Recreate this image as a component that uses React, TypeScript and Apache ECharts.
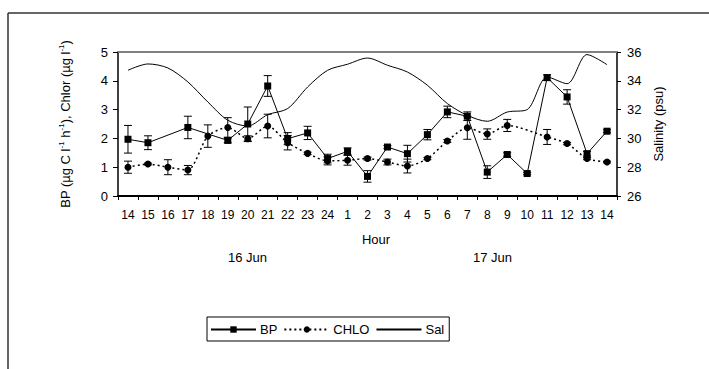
import React, { useEffect, useRef } from "react";
import * as echarts from "echarts";

const hours = ["14","15","16","17","18","19","20","21","22","23","24","1","2","3","4","5","6","7","8","9","10","11","12","13","14"];
const bp = [1.97, 1.85, null, 2.38, null, 1.93, 2.5, 3.82, 1.99, 2.19, 1.3, 1.55, 0.68, 1.7, 1.47, 2.13, 2.92, 2.77, 0.83, 1.44, 0.78, 4.11, 3.44, 1.47, 2.25];
const bpErr = [0.48, 0.24, null, 0.39, null, 0.08, 0.59, 0.36, 0.21, 0.23, 0.15, 0.12, 0.2, 0.05, 0.29, 0.18, 0.2, 0.15, 0.22, 0.06, 0.04, 0.1, 0.25, 0.08, 0.05];
const chlo = [1.0, 1.11, 1.0, 0.9, 2.08, 2.38, 1.99, 2.43, 1.85, 1.48, 1.22, 1.24, 1.3, 1.18, 1.04, 1.3, 1.91, 2.37, 2.15, 2.45, null, 2.05, 1.82, 1.3, 1.18];
const chloErr = [0.21, 0.03, 0.26, 0.16, 0.39, 0.34, 0.1, 0.41, 0.25, 0.04, 0.14, 0.17, 0.05, 0.1, 0.24, 0.04, 0.05, 0.4, 0.18, 0.21, null, 0.26, 0.04, 0.04, 0.03];
const sal = [34.73, 35.17, 34.89, 33.92, 32.53, 31.26, 30.86, 31.65, 32.07, 33.57, 34.73, 35.15, 35.58, 35.08, 34.61, 33.69, 32.42, 31.6, 31.19, 31.83, 32.0, 34.26, 33.8, 35.82, 35.12];
const dayLabels = ["16 Jun", "17 Jun"];
const xTitle = "Hour";

const FONT = "'Liberation Sans', Arial, sans-serif";

function errData(vals: (number | null)[], errs: (number | null)[]) {
  const out: number[][] = [];
  vals.forEach((v, i) => {
    const e = errs[i];
    if (v != null && e != null) out.push([i, v - e, v + e]);
  });
  return out;
}

function errRender(params: any, api: any) {
  const x = api.value(0);
  const hi = api.coord([x, api.value(2)]);
  const lo = api.coord([x, api.value(1)]);
  const w = 4;
  const st = { stroke: "#000", lineWidth: 1 };
  return {
    type: "group",
    children: [
      { type: "line", shape: { x1: hi[0], y1: hi[1], x2: lo[0], y2: lo[1] }, style: st },
      { type: "line", shape: { x1: hi[0] - w, y1: hi[1], x2: hi[0] + w, y2: hi[1] }, style: st },
      { type: "line", shape: { x1: lo[0] - w, y1: lo[1], x2: lo[0] + w, y2: lo[1] }, style: st },
    ],
  };
}

export default function App() {
  const ref = useRef<HTMLDivElement>(null);
  useEffect(() => {
    document.body.style.margin = "0";
    const chart = echarts.init(ref.current!, null, { renderer: "svg" });
    const option: any = {
      animation: false,
      backgroundColor: "#fff",
      textStyle: { fontFamily: FONT, color: "#000" },
      grid: { left: 118, right: 92, top: 52, bottom: 173, outerBoundsMode: "none" },
      legend: {
        data: ["BP", "CHLO", "Sal"],
        left: 207,
        top: 317,
        orient: "horizontal",
        itemWidth: 45,
        itemHeight: 8,
        itemGap: 6,
        padding: [6, 5, 5, 3],
        borderColor: "#000",
        borderWidth: 1,
        textStyle: { fontFamily: FONT, fontSize: 13, color: "#000", padding: [0, 0, 0, -1] },
      },
      xAxis: [
        {
          type: "category",
          data: hours,
          boundaryGap: true,
          axisLine: { lineStyle: { color: "#000", width: 2 } },
          axisTick: { show: true, length: 4, alignWithLabel: false, lineStyle: { color: "#000" } },
          axisLabel: { interval: 0, fontSize: 12, color: "#000", margin: 13, fontFamily: FONT },
          splitLine: { show: false },
        },
        {
          type: "category",
          data: hours,
          position: "top",
          axisLine: { lineStyle: { color: "#808080", width: 2 } },
          axisTick: { show: false },
          axisLabel: { show: false },
        },
      ],
      yAxis: [
        {
          type: "value",
          min: 0,
          max: 5,
          interval: 1,
          name: "BP (µg C l{s|-1} h{s|-1}), Chlor (µg l{s|-1})",
          nameLocation: "middle",
          nameRotate: 90,
          nameGap: 45,
          nameTextStyle: {
            fontFamily: FONT,
            fontSize: 13,
            color: "#000",
            lineHeight: 16,
            rich: { s: { fontSize: 8, verticalAlign: "top", lineHeight: 16, fontFamily: FONT, color: "#000" } },
          },
          axisLine: { show: true, lineStyle: { color: "#000", width: 1.5 } },
          axisTick: { show: true, length: 5, lineStyle: { color: "#000" } },
          axisLabel: { fontSize: 13, color: "#000", margin: 10, fontFamily: FONT },
          splitLine: { show: false },
        },
        {
          type: "value",
          min: 26,
          max: 36,
          interval: 2,
          position: "right",
          name: "Salinity (psu)",
          nameLocation: "middle",
          nameRotate: 90,
          nameGap: 31,
          nameTextStyle: { fontFamily: FONT, fontSize: 13, color: "#000" },
          axisLine: { show: true, lineStyle: { color: "#000", width: 1.5 } },
          axisTick: { show: true, length: 4, lineStyle: { color: "#000" } },
          axisLabel: { fontSize: 13, color: "#000", margin: 10, fontFamily: FONT },
          splitLine: { show: false },
        },
      ],
      graphic: [
        { type: "line", shape: { x1: 8, y1: 13, x2: 709, y2: 13 }, style: { stroke: "#333", lineWidth: 1.5 } },
        { type: "line", shape: { x1: 8, y1: 13, x2: 8, y2: 369 }, style: { stroke: "#333", lineWidth: 1.5 } },
        { type: "text", x: 376, y: 239, style: { text: xTitle, fontSize: 13, fontFamily: FONT, fill: "#000", textAlign: "center", textVerticalAlign: "middle" } },
        { type: "text", x: 247.5, y: 257, style: { text: dayLabels[0], fontSize: 13, fontFamily: FONT, fill: "#000", textAlign: "center", textVerticalAlign: "middle" } },
        { type: "text", x: 492.5, y: 257, style: { text: dayLabels[1], fontSize: 13, fontFamily: FONT, fill: "#000", textAlign: "center", textVerticalAlign: "middle" } },
      ],
      series: [
        {
          name: "Sal",
          type: "line",
          yAxisIndex: 1,
          data: sal,
          smooth: 0.3,
          symbol: "none",
          lineStyle: { color: "#000", width: 1 },
          itemStyle: { color: "rgba(0,0,0,0)" },
          z: 2,
        },
        {
          name: "BPerr",
          type: "custom",
          renderItem: errRender,
          data: errData(bp, bpErr),
          encode: { x: 0, y: [1, 2] },
          z: 3,
        },
        {
          name: "CHLOerr",
          type: "custom",
          renderItem: errRender,
          data: errData(chlo, chloErr),
          encode: { x: 0, y: [1, 2] },
          z: 3,
        },
        {
          name: "CHLO",
          type: "line",
          data: chlo,
          connectNulls: true,
          smooth: 0.25,
          symbol: "circle",
          symbolSize: 7,
          lineStyle: { color: "#000", width: 1.5, type: [2, 3] },
          itemStyle: { color: "#000" },
          z: 4,
        },
        {
          name: "BP",
          type: "line",
          data: bp,
          connectNulls: true,
          symbol: "rect",
          symbolSize: 7,
          lineStyle: { color: "#000", width: 1 },
          itemStyle: { color: "#000" },
          z: 5,
        },
      ],
    };
    chart.setOption(option);
    return () => chart.dispose();
  }, []);
  return <div ref={ref} style={{ width: 709, height: 369 }} />;
}
